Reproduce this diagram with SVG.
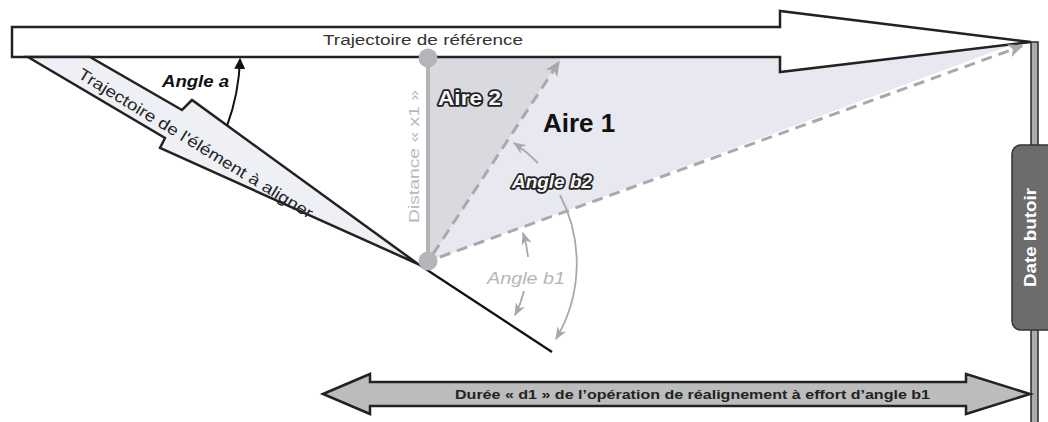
<svg xmlns="http://www.w3.org/2000/svg" width="1048" height="422" viewBox="0 0 1048 422">
<style>
text{font-family:"Liberation Sans",Arial,sans-serif}
.outline-shape{stroke:#222;stroke-width:2.5;stroke-linejoin:miter}
.dash{fill:none;stroke:#a9a9ad;stroke-width:3;stroke-dasharray:11 7}
.garc{fill:none;stroke:#a9a9ad;stroke-width:1.8}
.hollow{fill:#f6f6f6;stroke:#222;stroke-width:3.4;paint-order:stroke fill;font-weight:bold;stroke-linejoin:round}
</style>
<defs>
<marker id="blk" viewBox="0 0 10 10" refX="9" refY="5" markerWidth="11" markerHeight="11" markerUnits="userSpaceOnUse" orient="auto"><path d="M0,0 L10,5 L0,10 z" fill="#111"/></marker>
<marker id="gry" viewBox="0 0 10 10" refX="9" refY="5" markerWidth="15" markerHeight="15" markerUnits="userSpaceOnUse" orient="auto"><path d="M0,0.5 L10,5 L0,9.5 L2.5,5 z" fill="#a9a9ad"/></marker>
<marker id="gry2" viewBox="0 0 10 10" refX="9" refY="5" markerWidth="13" markerHeight="13" markerUnits="userSpaceOnUse" orient="auto"><path d="M0,1 L10,5 L0,9 L3,5 z" fill="#a9a9ad"/></marker>
</defs>

<g id="aire1">
<polygon points="428,262 562,57 780,57 780,72 1014,44" fill="#e7e8f0"/>
<text x="543" y="132" font-size="26" font-weight="bold" fill="#111">Aire 1</text>
</g>
<g id="aire2">
<polygon points="428,57 562,57 428,262" fill="#d8dadf"/>
<text class="hollow" x="438" y="105" font-size="20" textLength="63" lengthAdjust="spacingAndGlyphs">Aire 2</text>
</g>

<g id="reference-trajectory">
<polygon class="outline-shape" fill="#ffffff" points="12,27 780,27 780,11 1031,42 780,72 780,57 12,57"/>
<text x="323" y="45" font-size="15.5" fill="#333" textLength="200" lengthAdjust="spacingAndGlyphs">Trajectoire de référence</text>
</g>

<g id="element-trajectory">
<polygon class="outline-shape" fill="#eef0f5" points="28,57 90,57 182,110 192,100 418,264 160,148 165,138"/>
<line x1="418" y1="264" x2="552" y2="352" stroke="#111" stroke-width="2.2"/>
<text x="77" y="77" font-size="16" fill="#222" transform="rotate(31.5 77 77)" textLength="272" lengthAdjust="spacingAndGlyphs">Trajectoire de l'élément à aligner</text>
</g>

<g id="connectors">
<path d="M227,126 A212,212 0 0 0 240,59" fill="none" stroke="#111" stroke-width="2" marker-end="url(#blk)"/>
<line x1="428" y1="57" x2="428" y2="262" stroke="#b3b4b8" stroke-width="4"/>
<line class="dash" x1="433" y1="254" x2="559" y2="62" marker-end="url(#gry)"/>
<line class="dash" x1="440" y1="257" x2="1022" y2="46" marker-end="url(#gry)"/>
<path class="garc" d="M538,163 A148,148 0 0 0 514,143" marker-end="url(#gry2)"/>
<path class="garc" d="M560,195 A148,148 0 0 1 556,339" marker-end="url(#gry2)"/>
<path class="garc" d="M528,257 A100,100 0 0 0 523,233" marker-end="url(#gry2)"/>
<path class="garc" d="M524,291 A100,100 0 0 1 515,315" marker-end="url(#gry2)"/>
<circle cx="428" cy="58" r="9.5" fill="#b3b5b9"/>
<circle cx="428" cy="261" r="9.5" fill="#b3b5b9"/>
</g>

<g id="labels">
<text x="162" y="87" font-size="17" font-weight="bold" font-style="italic" fill="#111" textLength="67" lengthAdjust="spacingAndGlyphs">Angle a</text>
<text x="419" y="223" font-size="14" fill="#b9b9bd" transform="rotate(-90 419 223)" textLength="133" lengthAdjust="spacingAndGlyphs">Distance « x1 »</text>
<text class="hollow" x="512" y="188" font-size="18" font-style="italic" textLength="80" lengthAdjust="spacingAndGlyphs">Angle b2</text>
<text x="487" y="284" font-size="17" font-style="italic" fill="#b6b6ba" textLength="78" lengthAdjust="spacingAndGlyphs">Angle b1</text>
</g>

<g id="deadline">
<rect x="1031" y="42" width="7" height="392" fill="#a6adab" stroke="#2a2a2a" stroke-width="1.5"/>
<rect x="1012" y="145" width="46" height="185" rx="9" fill="#6c6c6c" stroke="#333" stroke-width="1.5"/>
<text x="1036" y="287" font-size="16" font-weight="bold" fill="#ffffff" transform="rotate(-90 1036 287)" textLength="99" lengthAdjust="spacingAndGlyphs">Date butoir</text>
</g>

<g id="duration">
<polygon class="outline-shape" stroke-width="2" fill="#bcbcbc" points="323,394 370,374 370,382 966,382 966,374 1030,394 966,414 966,406 370,406 370,414"/>
<text x="455" y="399" font-size="13" font-weight="bold" fill="#222" textLength="475" lengthAdjust="spacingAndGlyphs">Durée « d1 » de l’opération de réalignement à effort d’angle b1</text>
</g>
</svg>
